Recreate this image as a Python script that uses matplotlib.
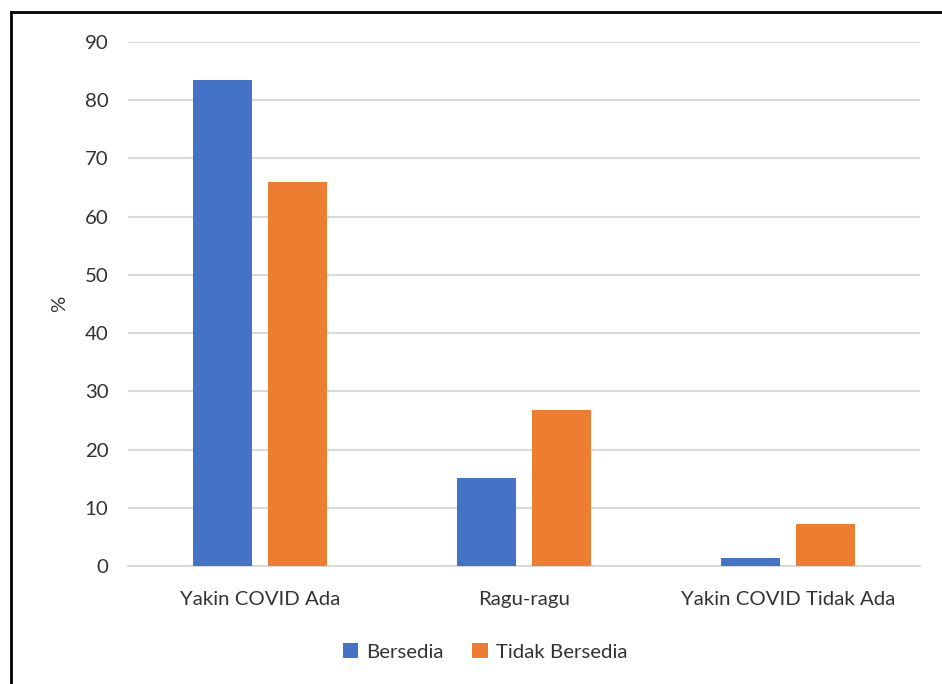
import numpy as np
import matplotlib.pyplot as plt
from matplotlib.lines import Line2D

categories = ["Yakin COVID Ada", "Ragu-ragu", "Yakin COVID Tidak Ada"]
bersedia = [83.5, 15.1, 1.4]
tidak_bersedia = [66.0, 26.8, 7.2]
yticks = [0, 10, 20, 30, 40, 50, 60, 70, 80, 90]

plt.rcParams['font.family'] = ['Lato', 'DejaVu Sans']
txt = '#333333'
fs = 14.7

fig = plt.figure(figsize=(9.42, 6.84), dpi=100)
ax = fig.add_axes([128/942, 1-566/684, (920-128)/942, (566-42)/684])

x = np.arange(len(categories))
w = 0.2235
ax.bar(x - 0.142, bersedia, w, color='#4472C4', label='Bersedia', zorder=3)
ax.bar(x + 0.142, tidak_bersedia, w, color='#ED7D31', label='Tidak Bersedia', zorder=3)

ax.set_xlim(-0.5, 2.5)
ax.set_ylim(0, 90)
ax.set_yticks(yticks)
ax.set_xticks(x)
ax.set_xticklabels(categories)
ax.grid(axis='y', color='#d9d9d9', linewidth=1.5, zorder=0)
for s in ['top', 'right', 'left']:
    ax.spines[s].set_visible(False)
ax.spines['bottom'].set_color('#d9d9d9')
ax.spines['bottom'].set_linewidth(1.5)
ax.tick_params(axis='both', length=0, labelsize=fs, labelcolor=txt)
ax.tick_params(axis='y', pad=14)
ax.tick_params(axis='x', pad=18)
ax.set_ylabel('%', fontsize=fs, color=txt, labelpad=12)

ax.legend(loc='center', bbox_to_anchor=(485/942, 1-652/684), bbox_transform=fig.transFigure,
          ncol=2, frameon=False, fontsize=fs, handlelength=0.75, handleheight=0.75,
          handletextpad=0.4, columnspacing=1.4, labelcolor=txt)

# chart border (left and top edges visible)
fig.add_artist(Line2D([10.5/942, 10.5/942], [0, 1-12/684], color='black', linewidth=2, transform=fig.transFigure))
fig.add_artist(Line2D([10.5/942, 1], [1-12/684, 1-12/684], color='black', linewidth=2, transform=fig.transFigure))

fig.savefig('out.png', dpi=100)
